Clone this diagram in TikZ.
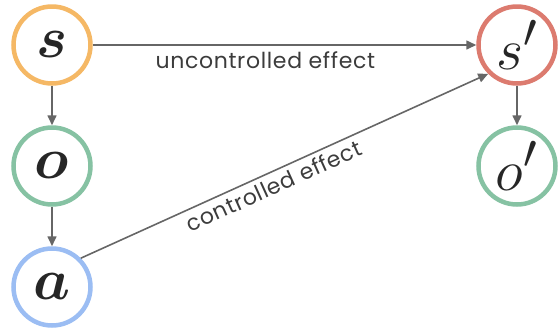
\documentclass[tikz,border=0pt]{standalone}
\usepackage{graphicx}
\usepackage{fontspec}
\setsansfont[LetterSpace=3]{Poppins}
\usetikzlibrary{
  arrows.meta, % For arrow tips
  positioning
}

\definecolor{stateorange}{HTML}{F5B865}
\definecolor{statered}{HTML}{DC7B6F}
\definecolor{obsgreen}{HTML}{86C2A3}
\definecolor{actblue}{HTML}{9BBDF3}
\definecolor{edgegray}{HTML}{666666}
\definecolor{labelgray}{HTML}{3C3C3C}

\newcommand{\bigvar}[1]{\scalebox{2.35}{\boldmath$#1$}}
\newcommand{\nextvar}[1]{\scalebox{2.35}{$#1$}}

\begin{document}
\begin{tikzpicture}[
      x=1pt, y=-1pt,
      >={Triangle[length=10pt,width=9pt]}, % Default arrow tip
      var/.style={circle, draw, line width=4.5pt, minimum size=77pt, inner sep=0pt,
        fill=white, text=black!85, font=\Huge}, % Style for variables
      effect/.style={edgegray, line width=1.6pt, ->}, % Style for arrows
      efflabel/.style={labelgray, font=\sffamily\fontsize{22}{25}\selectfont},
    ]

    \useasboundingbox (0,0) rectangle (558,330);

    \def\left{52}
    \def\right{517}

    % Zeitpunkt t
    \node[var, draw=stateorange] (s) at (\left, 45) {\bigvar{s}};
    \node[var, draw=obsgreen] (o) at (\left, 166) {\bigvar{o}};
    \node[var, draw=actblue] (a) at (\left, 287) {\bigvar{a}};

    % Zeitpunkt t+1
    \node[var, draw=statered] (s1) at (\right, 45) {\nextvar{s'}};
    \node[var, draw=obsgreen] (o1) at (\right, 166) {\nextvar{o'}};

    \draw[effect] (s) -- (o);
    \draw[effect] (o) -- (a);
    \draw[effect] (s1) -- (o1);

    % Wirkungen
    \draw[effect] (s) -- (s1) node[pos=0.45, below=3pt, efflabel] {uncontrolled effect};
    \draw[effect] (a.45) -- (s1.225) node[pos=0.46, sloped, below=1pt, efflabel] {controlled effect};

  \end{tikzpicture}
\end{document}
